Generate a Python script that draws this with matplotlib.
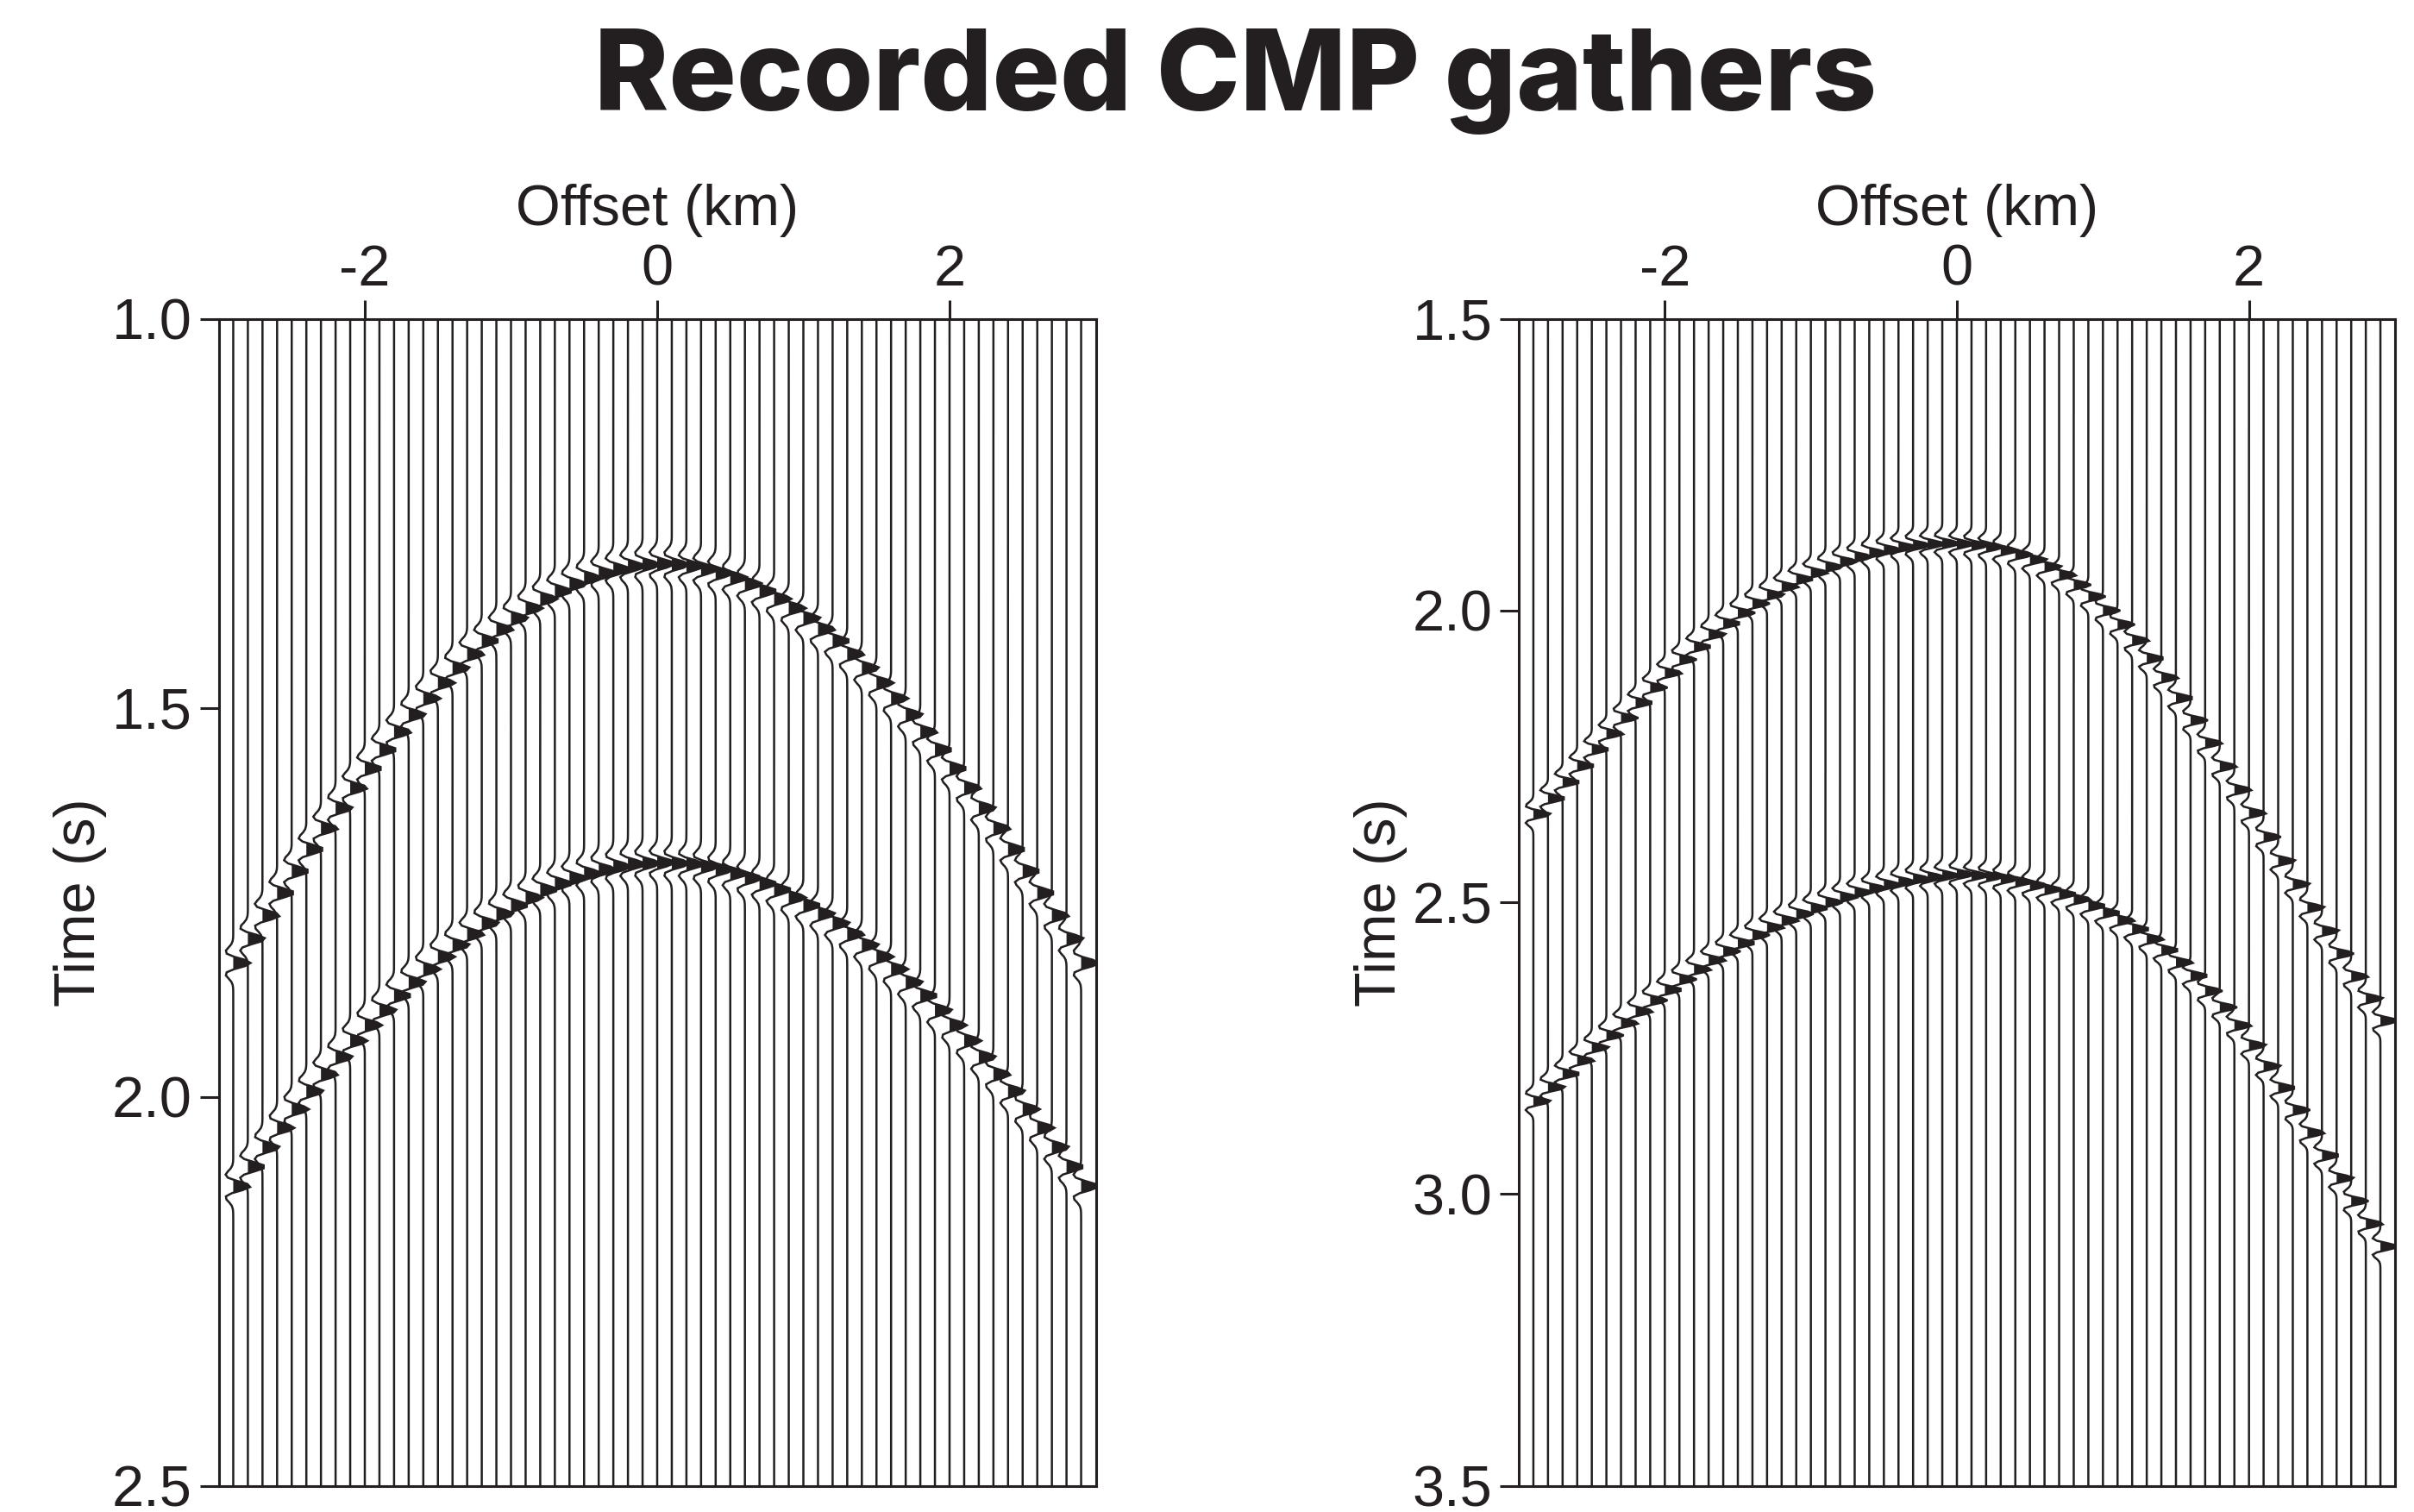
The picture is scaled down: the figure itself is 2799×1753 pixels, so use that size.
import numpy as np
import matplotlib
matplotlib.use("Agg")
import matplotlib.pyplot as plt

plt.rcParams['axes.unicode_minus'] = False
plt.rcParams['font.family'] = ['Liberation Sans', 'DejaVu Sans']

# ---------------- data ----------------
offsets = [-2.9, -2.8, -2.7, -2.6, -2.5, -2.4, -2.3, -2.2, -2.1, -2.0,
           -1.9, -1.8, -1.7, -1.6, -1.5, -1.4, -1.3, -1.2, -1.1, -1.0,
           -0.9, -0.8, -0.7, -0.6, -0.5, -0.4, -0.3, -0.2, -0.1, 0.0,
           0.1, 0.2, 0.3, 0.4, 0.5, 0.6, 0.7, 0.8, 0.9, 1.0,
           1.1, 1.2, 1.3, 1.4, 1.5, 1.6, 1.7, 1.8, 1.9, 2.0,
           2.1, 2.2, 2.3, 2.4, 2.5, 2.6, 2.7, 2.8, 2.9]

# arrival times (s) of the two reflections, left gather
left_event1 = [1.828, 1.797, 1.767, 1.738, 1.710, 1.682, 1.655, 1.629, 1.603, 1.578,
               1.554, 1.531, 1.509, 1.488, 1.468, 1.449, 1.431, 1.414, 1.399, 1.385,
               1.372, 1.360, 1.350, 1.341, 1.333, 1.327, 1.322, 1.318, 1.316, 1.315,
               1.316, 1.318, 1.322, 1.327, 1.333, 1.341, 1.350, 1.360, 1.372, 1.385,
               1.399, 1.414, 1.431, 1.449, 1.468, 1.488, 1.509, 1.531, 1.554, 1.578,
               1.603, 1.629, 1.655, 1.682, 1.710, 1.738, 1.767, 1.797, 1.828]
left_event2 = [2.115, 2.090, 2.065, 2.040, 2.016, 1.993, 1.971, 1.949, 1.928, 1.908,
               1.889, 1.870, 1.853, 1.836, 1.820, 1.805, 1.791, 1.777, 1.765, 1.754,
               1.744, 1.734, 1.726, 1.719, 1.713, 1.708, 1.704, 1.701, 1.700, 1.699,
               1.700, 1.701, 1.704, 1.708, 1.713, 1.719, 1.726, 1.734, 1.744, 1.754,
               1.765, 1.777, 1.791, 1.805, 1.820, 1.836, 1.853, 1.870, 1.889, 1.908,
               1.928, 1.949, 1.971, 1.993, 2.016, 2.040, 2.065, 2.090, 2.115]

# arrival times (s) of the two reflections, right gather
right_event1 = [2.349, 2.322, 2.294, 2.266, 2.238, 2.211, 2.184, 2.158, 2.132, 2.107,
                2.084, 2.062, 2.041, 2.022, 2.004, 1.988, 1.973, 1.959, 1.946, 1.935,
                1.925, 1.916, 1.908, 1.901, 1.896, 1.891, 1.888, 1.886, 1.885, 1.886,
                1.888, 1.891, 1.897, 1.904, 1.913, 1.925, 1.939, 1.956, 1.976, 2.000,
                2.024, 2.051, 2.082, 2.115, 2.150, 2.188, 2.227, 2.267, 2.307, 2.347,
                2.388, 2.429, 2.469, 2.509, 2.549, 2.588, 2.627, 2.665, 2.703]
right_event2 = [2.841, 2.817, 2.794, 2.771, 2.749, 2.728, 2.707, 2.687, 2.668, 2.650,
                2.632, 2.615, 2.599, 2.584, 2.570, 2.556, 2.543, 2.531, 2.520, 2.510,
                2.500, 2.491, 2.483, 2.476, 2.470, 2.465, 2.460, 2.457, 2.454, 2.452,
                2.454, 2.456, 2.460, 2.465, 2.471, 2.478, 2.486, 2.495, 2.506, 2.518,
                2.531, 2.546, 2.563, 2.582, 2.603, 2.626, 2.652, 2.680, 2.711, 2.745,
                2.781, 2.818, 2.856, 2.895, 2.934, 2.973, 3.012, 3.051, 3.090]

left_yticks = [1.0, 1.5, 2.0, 2.5]
right_yticks = [1.5, 2.0, 2.5, 3.0, 3.5]
xticks = [-2, 0, 2]
xtick_labels = ['-2', '0', '2']

title = 'Recorded CMP gathers'
xlabel = 'Offset (km)'
ylabel = 'Time (s)'

# ---------------- style ----------------
INK = '#231f20'
W, H, DPI = 2799, 1753, 200
dt = 0.004          # sample interval (s)
freq = 27.0         # wavelet peak frequency (Hz)
amp = 0.118         # peak deflection (km)


def ricker(tau):
    a = (np.pi * freq * tau) ** 2
    return (1 - 2 * a) * np.exp(-a)


def draw_gather(ax, ev1, ev2, tmin, tmax, yticks):
    t = np.arange(tmin, tmax + dt / 2, dt)
    for x0, t1, t2 in zip(offsets, ev1, ev2):
        tr = ricker(t - t1) + ricker(t - t2)
        xs = x0 + amp * tr
        ax.fill_betweenx(t, x0, xs, where=tr > 0, interpolate=True,
                         color=INK, lw=0)
        ax.plot(xs, t, color=INK, lw=0.9, solid_joinstyle='miter')
    ax.set_xlim(-3, 3)
    ax.set_ylim(tmax, tmin)
    ax.set_xticks(xticks)
    ax.set_xticklabels(xtick_labels)
    ax.set_yticks(yticks)
    ax.set_yticklabels([f'{v:.1f}' for v in yticks])
    ax.xaxis.set_ticks_position('top')
    ax.yaxis.set_ticks_position('left')
    ax.tick_params(axis='both', direction='out', length=8, width=1.1,
                   color=INK, labelcolor=INK, labelsize=24)
    ax.tick_params(axis='x', pad=1)
    ax.tick_params(axis='y', pad=3)
    for s in ax.spines.values():
        s.set_linewidth(1.1)
        s.set_color(INK)
    ax.text(0.5, 1.0806, xlabel, transform=ax.transAxes, ha='center',
            va='baseline', fontsize=24, color=INK)
    ax.text(-0.1578, 0.5, ylabel, transform=ax.transAxes, ha='center',
            va='center', rotation=90, fontsize=24, color=INK)


fig = plt.figure(figsize=(W / DPI, H / DPI), dpi=DPI)
ax_h = 1353 / H
ax_b = 1 - 1722.6 / H
axL = fig.add_axes([253.5 / W, ax_b, 1017 / W, ax_h])
axR = fig.add_axes([1761 / W, ax_b, 1016 / W, ax_h])

draw_gather(axL, left_event1, left_event2, 1.0, 2.5, left_yticks)
draw_gather(axR, right_event1, right_event2, 1.5, 3.5, right_yticks)

fig.text(0.5118, 1 - 128.5 / H, title, ha='center', va='baseline',
         fontsize=47, fontweight='heavy', family=['Inter', 'DejaVu Sans'],
         color=INK)

fig.savefig('out.png', dpi=DPI, facecolor='white')
